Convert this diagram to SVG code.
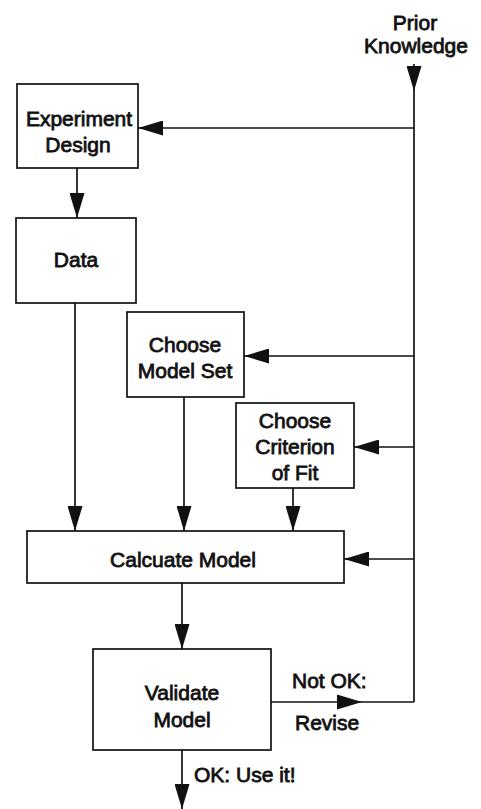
<svg xmlns="http://www.w3.org/2000/svg" width="481" height="809" viewBox="0 0 481 809">
  <style>
    .box { fill: #fff; stroke: #111; stroke-width: 1.7; }
    .lbl { font-family: "Liberation Sans", Arial, sans-serif; font-size: 21px; fill: #111; stroke: #111; stroke-width: 0.8; text-anchor: middle; }
    .lbl-l { text-anchor: start; }
    .wire { fill: none; stroke: #111; stroke-width: 1.7; }
  </style>
  <defs>
    <marker id="head" markerUnits="userSpaceOnUse" markerWidth="26" markerHeight="15" refX="25" refY="7.5" orient="auto">
      <path d="M0,0 L25,7.5 L0,15 z" fill="#111"/>
    </marker>
  </defs>

  <rect width="481" height="809" fill="#fff"/>

  <g id="prior-knowledge">
    <text class="lbl" x="415" y="30">Prior</text>
    <text class="lbl" x="416" y="53">Knowledge</text>
  </g>

  <g id="experiment-design">
    <rect class="box" x="17" y="84" width="121" height="84"/>
    <text class="lbl" x="79" y="126">Experiment</text>
    <text class="lbl" x="78" y="152">Design</text>
  </g>

  <g id="data">
    <rect class="box" x="16" y="218" width="120" height="85"/>
    <text class="lbl" x="76" y="267">Data</text>
  </g>

  <g id="choose-model-set">
    <rect class="box" x="127" y="312" width="117" height="85"/>
    <text class="lbl" x="185" y="352">Choose</text>
    <text class="lbl" x="185" y="378">Model Set</text>
  </g>

  <g id="choose-criterion">
    <rect class="box" x="236" y="403" width="118" height="85"/>
    <text class="lbl" x="295" y="428">Choose</text>
    <text class="lbl" x="295" y="454">Criterion</text>
    <text class="lbl" x="295" y="480">of Fit</text>
  </g>

  <g id="calculate-model">
    <rect class="box" x="27" y="531" width="317" height="52"/>
    <text class="lbl" x="183" y="567">Calcuate Model</text>
  </g>

  <g id="validate-model">
    <rect class="box" x="93" y="649" width="178" height="101"/>
    <text class="lbl" x="182" y="700">Validate</text>
    <text class="lbl" x="182" y="727">Model</text>
  </g>

  <g id="connectors">
    <!-- prior knowledge feed -->
    <path class="wire" d="M414,64 L414,91" marker-end="url(#head)"/>
    <path class="wire" d="M414,91 L414,702"/>
    <path class="wire" d="M414,128 L138,128" marker-end="url(#head)"/>
    <path class="wire" d="M414,356 L244,356" marker-end="url(#head)"/>
    <path class="wire" d="M414,447 L354,447" marker-end="url(#head)"/>
    <path class="wire" d="M414,559 L344,559" marker-end="url(#head)"/>
    <!-- main flow -->
    <path class="wire" d="M77,168 L77,218" marker-end="url(#head)"/>
    <path class="wire" d="M75,303 L75,531" marker-end="url(#head)"/>
    <path class="wire" d="M184,397 L184,531" marker-end="url(#head)"/>
    <path class="wire" d="M293,488 L293,531" marker-end="url(#head)"/>
    <path class="wire" d="M182,583 L182,649" marker-end="url(#head)"/>
    <!-- revise loop -->
    <path class="wire" d="M271,702 L362,702" marker-end="url(#head)"/>
    <path class="wire" d="M362,702 L414,702"/>
    <!-- accept -->
    <path class="wire" d="M182,750 L182,809" marker-end="url(#head)"/>
  </g>

  <g id="edge-labels">
    <text class="lbl lbl-l" x="292" y="688">Not OK:</text>
    <text class="lbl lbl-l" x="295" y="730">Revise</text>
    <text class="lbl lbl-l" x="194" y="782">OK: Use it!</text>
  </g>
</svg>
